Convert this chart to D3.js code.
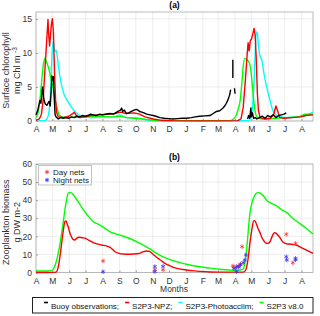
<!doctype html>
<html lang="en">
<head>
<meta charset="utf-8">
<title>Chlorophyll and zooplankton</title>
<script src="https://cdn.jsdelivr.net/npm/d3@7"></script>
<style>
  body { margin: 0; background: #fff; }
  svg { display: block; font-family: "Liberation Sans", Arial, sans-serif; }
  .tick text { fill: #333; }
</style>
</head>
<body>
<svg id="chart" width="320" height="316"></svg>
<script>
// days counted from 1 April of the first year
var startDate = new Date(2016, 3, 1);
var endDate = new Date(2017, 7, 22);

var chlTicks = [0, 5, 10, 15];
var zooTicks = [0, 10, 20, 30, 40, 50, 60];

// (a) surface chlorophyll, [day, mg Chl m-3]; null = gap in buoy record
var chlBuoy = [[0,0.9],[3,1.5],[5,2.2],[7,3],[9,2.6],[12,5],[14,3.5],[15,3],[17,2.5],[20,2.3],[22,2.6],[24,2.9],[26,2.2],[28,4.5],[29,6.6],[31,6.0],[32,6.5],[33,4.2],[35,0.9],[37,0.6],[41,0.3],[45,0.5],[50,0.4],[55,0.5],[60,0.4],[65,0.6],[70,0.5],[75,0.7],[80,0.6],[85,0.8],[90,0.7],[95,0.8],[100,1.0],[105,0.9],[110,0.8],[117,1.0],[122,0.9],[128,1.0],[136,1.1],[142,1.0],[148,1.3],[152,1.5],[155,1.6],[157,1.9],[159,1.4],[162,1.6],[166,1.1],[170,1.2],[175,1.4],[180,1.6],[184,1.7],[187,1.6],[190,1.4],[194,1.3],[198,1.2],[203,1.0],[209,0.9],[215,0.8],[220,0.7],[227,0.5],[235,0.4],[243,0.35],[251,0.3],[260,0.35],[268,0.4],[276,0.4],[285,0.5],[292,0.6],[300,0.7],[310,0.75],[319,0.8],[325,1.1],[331,1.4],[337,1.5],[343,1.9],[346,2.2],[349,2.6],[352,3.1],[355,3.8],[357,4.6],[358,null],[361,9.0],[361.5,6.3],[362,null],[364,4.8],[365,4.0],[366,null],[388,0.3],[390,0.8],[392,0.4],[394,1.9],[395,0.6],[397,1.2],[399,0.4],[402,0.5],[405,0.3],[410,0.5],[415,0.7],[420,0.4],[425,0.8],[430,0.6],[435,0.9],[440,0.5],[445,0.8],[450,0.9],[455,1.0],[459,1.2]];
var chlNpz = [[0,0.1],[6,0.3],[10,1],[13,3],[16,7],[19,11],[22,14.9],[23.5,13],[25,11],[26.5,12],[28,14],[30.5,15],[32,13],[34,7],[36,3],[38,1.2],[41,0.6],[50,0.5],[60,0.7],[66,1.0],[70,1.3],[74,0.8],[80,0.5],[90,0.6],[100,0.8],[115,0.9],[130,1.0],[145,1.1],[155,1.3],[165,1.1],[180,1.2],[190,1.0],[200,0.6],[215,0.3],[230,0.1],[250,0.05],[300,0.02],[370,0.05],[376,0.3],[380,2],[384,6],[387,9.5],[389,11.5],[391,10.3],[393,11.8],[395,12.0],[397,12.6],[400,13.6],[402,12.5],[404,9],[406,4],[408,1.5],[411,0.5],[420,0.3],[430,0.4],[436,1.0],[440,2.2],[443,1.5],[447,0.5],[455,0.4],[470,0.5],[485,0.6],[495,0.8],[508,0.9]];
var chlPhoto = [[0,0.02],[15,0.05],[20,0.3],[24,1.5],[27,5],[29,9],[31,11.6],[33,10.8],[35,10.2],[37,10.4],[39,9.5],[42,7.5],[46,5.6],[51,4],[56,3.2],[62,2.4],[68,1.7],[75,1.1],[86,0.6],[100,0.5],[120,0.6],[140,0.6],[155,0.9],[165,0.5],[180,0.5],[195,0.3],[210,0.1],[230,0.02],[390,0.05],[394,0.5],[397,2],[400,6],[402,10],[404,13.1],[406,12.8],[408,11],[411,9.5],[414,9],[418,7],[423,5],[429,3.1],[434,1.6],[440,0.9],[445,0.7],[460,0.5],[475,0.6],[490,0.7],[500,1.0],[508,1.3]];
var chlV8 = [[0,0.5],[3,1],[7,3],[10,5.5],[13,8],[16.5,9.2],[20,8.5],[24,7.5],[28,6],[31,5],[34,3.5],[38,2.1],[42,1],[45,0.7],[55,0.5],[80,0.6],[100,0.7],[120,0.7],[140,0.6],[155,0.7],[165,0.5],[180,0.4],[195,0.3],[210,0.15],[230,0.05],[355,0.05],[362,0.3],[367,0.8],[371,1.8],[374,2.8],[377,5],[380,8],[383,9.2],[387,9.0],[391,8.6],[394,7.5],[397,5],[400,2.5],[403,1],[406,0.5],[415,0.3],[440,0.4],[460,0.5],[480,0.6],[495,1.0],[508,1.0]];

// (b) zooplankton biomass, [day, g DW m-2]
var zooNpz = [[0,0],[35,0.05],[38,0.5],[41,3.2],[44,9],[47,16],[50,23],[53,28.1],[55,28.5],[57,27],[59,25.3],[62,22],[65,19.8],[68,18.3],[71,18],[75,19],[79,19.5],[85,19.2],[90,19.0],[97,17.8],[105,16.5],[120,15.2],[130,14.6],[136,13.9],[141,12.6],[145,11.5],[152,10.6],[160,10.2],[170,10.1],[178,10.2],[190,10.6],[197,11.5],[203,11.9],[209,11.5],[215,10],[221,8.4],[227,7.2],[235,5.3],[242,4.2],[251,3.0],[263,2],[276,1.4],[290,0.9],[300,0.6],[320,0.3],[350,0.2],[380,0.2],[384,1],[387,4],[390,10],[393,18],[396,24],[399,28.5],[401,28.7],[404,27],[407,24.5],[410,22.6],[414,19.5],[419,17],[422,16.2],[425,16.1],[429,17],[433,20],[436,21.7],[438,22],[441,21.5],[444,20.5],[447,19.5],[451,17.5],[456,16.2],[461,15.8],[465,15.8],[471,15.5],[477,15.2],[485,14],[495,12.5],[508,10.6]];
var zooV8 = [[0,0.8],[20,0.8],[29,1.2],[33,2.5],[38,6.9],[43,14],[47,21.7],[50,28],[53,34.6],[56,40],[59,43.8],[63,44.3],[67,43.5],[71,41.9],[80,38],[87,34.6],[95,31.5],[105,28.1],[112,27],[120,25.7],[136,22.5],[154,20.7],[172,18.8],[185,17],[197,15.2],[210,12.8],[221,10.6],[242,7.5],[264,5.5],[280,4.3],[300,3.2],[320,2.4],[337,1.8],[361,1.2],[375,1.4],[380,2],[383,5],[386,12],[389,22],[392,32],[396,38.5],[401,42.5],[405,44],[409,44.1],[413,43.5],[418,42],[423,40],[430,38.5],[441,36.8],[453,34.2],[459,33.4],[471,30],[484,27],[495,24.5],[508,21.3]];
var dayNets = [[123,6.4],[218,1.6],[233,1.5],[361,3.6],[365,2.5],[371,3.6],[375,4.7],[378,14.3],[459,21.1],[471,5.4],[476,16.1]];
var nightNets = [[123,0.4],[218,3.3],[218,0.5],[233,3.4],[363,2.3],[368,3.2],[368,0.4],[372,3.0],[375,4.2],[380,5.4],[383,6.9],[385,9.7],[459,8.7],[460,6.9],[476,7.8],[476,7.0]];

var seriesNames = ["Buoy observations;", "S2P3-NPZ;", "S2P3-Photoacclim;", "S2P3 v8.0"];
var seriesColors = ["#000000", "#ff0000", "#00ffff", "#00ff00"];

var svg = d3.select("#chart");
var left = 36, right = 313;

var x = d3.scaleTime().domain([startDate, endDate]).range([left, right]);
function dayX(d) { return x(d3.timeDay.offset(startDate, d[0])); }
var monthFmt = function(d) { return d3.timeFormat("%b")(d).charAt(0); };

function panel(top, bottom, yMax, yTicks, title, ylab1) {
  var y = d3.scaleLinear().domain([0, yMax]).range([bottom, top]);
  var g = svg.append("g");
  var months = d3.timeMonth.range(startDate, endDate);

  // grid
  g.selectAll(".vg").data(months).enter().append("line")
    .attr("x1", function(d) { return x(d); }).attr("x2", function(d) { return x(d); })
    .attr("y1", top).attr("y2", bottom).attr("stroke", "#e3e3e3").attr("stroke-width", 0.6);
  g.selectAll(".hg").data(yTicks).enter().append("line")
    .attr("x1", left).attr("x2", right)
    .attr("y1", function(d) { return y(d); }).attr("y2", function(d) { return y(d); })
    .attr("stroke", "#e3e3e3").attr("stroke-width", 0.6);

  // axes
  g.append("g").attr("transform", "translate(0," + bottom + ")")
    .call(d3.axisBottom(x).tickValues(months).tickFormat(monthFmt).tickSizeInner(-2).tickSizeOuter(0).tickPadding(5))
    .call(function(a) { a.select(".domain").remove(); a.selectAll("line").attr("stroke", "#999"); a.selectAll("text").attr("font-size", 8.5).attr("font-family", null); });
  g.append("g").attr("transform", "translate(" + left + ",0)")
    .call(d3.axisLeft(y).tickValues(yTicks).tickSizeInner(-2).tickSizeOuter(0).tickPadding(4))
    .call(function(a) { a.select(".domain").remove(); a.selectAll("line").attr("stroke", "#999"); a.selectAll("text").attr("font-size", 8.5).attr("font-family", null); });
  g.append("rect").attr("x", left).attr("y", top).attr("width", right - left).attr("height", bottom - top)
    .attr("fill", "none").attr("stroke", "#aaa").attr("stroke-width", 0.8);

  g.append("text").attr("x", (left + right) / 2).attr("y", top - 4).attr("text-anchor", "middle")
    .attr("font-size", 8.5).attr("font-weight", "bold").text(title);

  var cy = (top + bottom) / 2 + 4;
  g.append("text").attr("transform", "translate(9," + cy + ") rotate(-90)")
    .attr("text-anchor", "middle").attr("font-size", 9).attr("fill", "#333").text(ylab1);
  var t2 = g.append("text").attr("transform", "translate(20," + cy + ") rotate(-90)")
    .attr("text-anchor", "middle").attr("font-size", 9).attr("fill", "#333");
  return { g: g, y: y, t2: t2 };
}

function drawLine(p, data, color, curve) {
  var line = d3.line().defined(function(d) { return d[1] != null; })
    .x(dayX).y(function(d) { return p.y(d[1]); }).curve(curve);
  p.g.append("path").datum(data).attr("d", line)
    .attr("fill", "none").attr("stroke", color).attr("stroke-width", 1.4).attr("stroke-linejoin", "round");
}

// (a)
var pa = panel(12, 121, 16, chlTicks, "(a)", "Surface chlorophyll");
pa.t2.text("mg Chl m ").append("tspan").attr("dy", -3).attr("font-size", 6.5).text("-3");
drawLine(pa, chlPhoto, seriesColors[2], d3.curveMonotoneX);
drawLine(pa, chlV8, seriesColors[3], d3.curveMonotoneX);
drawLine(pa, chlNpz, seriesColors[1], d3.curveLinear);
drawLine(pa, chlBuoy, seriesColors[0], d3.curveLinear);

// (b)
var pb = panel(164, 272.5, 60, zooTicks, "(b)", "Zooplankton biomass");
pb.t2.text("g DW m-2");
drawLine(pb, zooV8, seriesColors[3], d3.curveMonotoneX);
drawLine(pb, zooNpz, seriesColors[1], d3.curveMonotoneX);

var star = d3.symbol().type(d3.symbolAsterisk).size(14);
function drawNets(data, color) {
  pb.g.selectAll(null).data(data).enter().append("path")
    .attr("d", star)
    .attr("transform", function(d) { return "translate(" + dayX(d) + "," + pb.y(d[1]) + ")"; })
    .attr("fill", "none").attr("stroke", color).attr("stroke-width", 0.9).attr("opacity", 0.85);
}
drawNets(dayNets, "#ff3030");
drawNets(nightNets, "#3030ff");

// inner legend
var il = pb.g.append("g");
il.append("rect").attr("x", 38.5).attr("y", 165.5).attr("width", 53).attr("height", 19.5)
  .attr("fill", "#fff").attr("stroke", "#aaa").attr("stroke-width", 0.7);
[["Day nets", "#ff3030", 172], ["Night nets", "#3030ff", 180]].forEach(function(r) {
  il.append("path").attr("d", star).attr("transform", "translate(47," + r[2] + ")")
    .attr("fill", "none").attr("stroke", r[1]).attr("stroke-width", 0.9);
  il.append("text").attr("x", 53).attr("y", r[2] + 3).attr("font-size", 8).attr("fill", "#222").text(r[0]);
});

// x label
svg.append("text").attr("x", 174).attr("y", 292).attr("text-anchor", "middle")
  .attr("font-size", 8.5).attr("fill", "#333").text("Months");

// bottom legend, entries laid out one after another and centred in the box
var lg = svg.append("g");
var boxX = 32.5, boxW = 280.5;
lg.append("rect").attr("x", boxX).attr("y", 297.5).attr("width", boxW).attr("height", 15.5)
  .attr("fill", "#fff").attr("stroke", "#222").attr("stroke-width", 1);
var items = seriesNames.map(function(n, i) {
  var it = lg.append("g");
  it.append("line").attr("x1", 0).attr("x2", 4).attr("y1", 302.5).attr("y2", 302.5)
    .attr("stroke", seriesColors[i]).attr("stroke-width", 1.6);
  var t = it.append("text").attr("x", 7).attr("y", 308.5).attr("font-size", 8).attr("fill", "#111").text(n);
  return { g: it, w: 7 + t.node().getComputedTextLength() };
});
var gap = 6;
var total = d3.sum(items, function(d) { return d.w; }) + gap * (items.length - 1);
var cx = boxX + (boxW - total) / 2 + 1;
items.forEach(function(it) {
  it.g.attr("transform", "translate(" + cx + ",0)");
  cx += it.w + gap;
});
</script>
</body>
</html>
